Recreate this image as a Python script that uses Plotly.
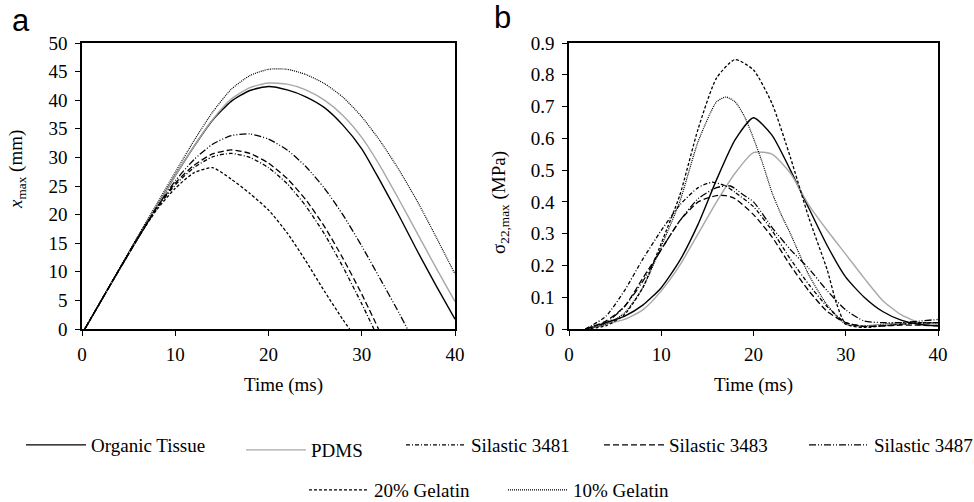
import plotly.graph_objects as go

# ---------------- data ----------------
series_names = ["Organic Tissue", "PDMS", "Silastic 3481", "Silastic 3483",
                "Silastic 3487", "20% Gelatin", "10% Gelatin"]

# Panel a: x_max (mm) vs time (ms)
t_a_organic = [0.3, 2, 4, 6, 8, 10, 12, 14, 16, 18, 20, 22, 24, 26, 28, 30, 32, 34, 36, 38, 40]
x_a_organic = [0, 4.8, 10.4, 15.9, 21.4, 26.8, 31.9, 36.5, 39.8, 41.7, 42.4, 41.8, 40.6, 38.7, 35.6, 31.5, 25.8, 19.8, 13.5, 7.5, 1.7]

t_a_pdms = [0.3, 2, 4, 6, 8, 10, 12, 14, 16, 18, 20, 22, 24, 26, 28, 30, 32, 34, 36, 38, 40]
x_a_pdms = [0, 4.8, 10.4, 15.9, 21.4, 26.8, 31.9, 36.6, 40.2, 42.2, 43.0, 42.8, 41.8, 40.0, 37.3, 33.5, 28.4, 22.6, 16.6, 10.6, 4.8]

t_a_s3481 = [0.3, 2, 4, 6, 8, 10, 12, 14, 16, 18, 20, 22, 24, 26, 28, 30, 31.3]
x_a_s3481 = [0, 4.8, 10.4, 15.9, 21.0, 25.2, 28.2, 30.1, 30.7, 30.0, 28.2, 25.4, 21.5, 16.6, 10.8, 4.4, 0]

t_a_s3483 = [0.3, 2, 4, 6, 8, 10, 12, 14, 16, 18, 20, 22, 24, 26, 28, 30, 31.8]
x_a_s3483 = [0, 4.8, 10.4, 15.9, 21.2, 25.5, 28.6, 30.6, 31.3, 30.7, 29.0, 26.3, 22.6, 17.9, 12.3, 6.1, 0]

t_a_s3487 = [0.3, 2, 4, 6, 8, 10, 12, 14, 16, 18, 20, 22, 24, 26, 28, 30, 32, 34, 34.9]
x_a_s3487 = [0, 4.8, 10.4, 15.9, 21.2, 25.9, 29.6, 32.3, 33.8, 34.1, 33.2, 31.3, 28.4, 24.6, 19.9, 14.5, 8.7, 2.8, 0]

t_a_gel20 = [0.3, 2, 4, 6, 8, 10, 12, 14, 16, 18, 20, 22, 24, 26, 28, 28.7]
x_a_gel20 = [0, 4.8, 10.4, 15.9, 20.8, 24.6, 27.3, 28.2, 26.2, 23.7, 20.8, 16.8, 11.9, 6.6, 1.6, 0]

t_a_gel10 = [0.3, 2, 4, 6, 8, 10, 12, 14, 16, 18, 20, 22, 24, 26, 28, 30, 32, 34, 36, 38, 40]
x_a_gel10 = [0, 4.8, 10.6, 16.3, 21.8, 27.4, 32.9, 37.9, 41.9, 44.3, 45.4, 45.4, 44.5, 42.9, 40.5, 37.1, 32.8, 27.8, 22.2, 16.0, 9.6]

# Panel b: sigma_22,max (MPa) vs time (ms)
t_b_organic = [1.8, 4, 6, 8, 10, 12, 14, 16, 18, 20, 22, 24, 26, 28, 30, 32, 34, 36, 38, 40]
s_b_organic = [0, 0.02, 0.04, 0.075, 0.13, 0.215, 0.33, 0.47, 0.595, 0.665, 0.61, 0.5, 0.38, 0.262, 0.163, 0.1, 0.055, 0.028, 0.014, 0.01]

t_b_pdms = [1.8, 4, 6, 8, 10, 12, 14, 16, 18, 20, 22, 24, 26, 28, 30, 32, 34, 36, 38, 40]
s_b_pdms = [0, 0.015, 0.03, 0.06, 0.12, 0.2, 0.3, 0.4, 0.49, 0.555, 0.55, 0.49, 0.39, 0.31, 0.235, 0.16, 0.09, 0.045, 0.02, 0.015]

t_b_s3481 = [1.8, 4, 6, 8, 10, 12, 14, 15.5, 17, 18, 20, 22, 24, 26, 28, 30, 32, 34, 36, 38, 40]
s_b_s3481 = [0, 0.04, 0.12, 0.22, 0.31, 0.39, 0.445, 0.462, 0.45, 0.43, 0.385, 0.31, 0.22, 0.14, 0.07, 0.02, 0.008, 0.01, 0.015, 0.018, 0.02]

t_b_s3483 = [1.8, 4, 6, 8, 10, 12, 14, 16, 17, 18, 20, 22, 24, 26, 28, 30, 32, 34, 36, 38, 40]
s_b_s3483 = [0, 0.025, 0.07, 0.16, 0.25, 0.34, 0.40, 0.42, 0.42, 0.41, 0.36, 0.29, 0.2, 0.12, 0.055, 0.02, 0.008, 0.01, 0.012, 0.012, 0.01]

t_b_s3487 = [1.8, 4, 6, 8, 10, 12, 14, 16, 17.5, 19, 20, 22, 24, 26, 28, 30, 32, 34, 36, 38, 40]
s_b_s3487 = [0, 0.02, 0.07, 0.15, 0.25, 0.34, 0.41, 0.445, 0.45, 0.42, 0.4, 0.32, 0.25, 0.19, 0.12, 0.06, 0.025, 0.02, 0.02, 0.025, 0.03]

t_b_gel20 = [1.8, 4, 6, 8, 10, 12, 14, 16, 18, 20, 22, 24, 26, 28, 29, 30, 32, 34, 36, 38, 40]
s_b_gel20 = [0, 0.01, 0.045, 0.13, 0.27, 0.42, 0.63, 0.79, 0.848, 0.815, 0.71, 0.54, 0.35, 0.185, 0.08, 0.015, 0.005, 0.01, 0.015, 0.02, 0.02]

t_b_gel10 = [1.8, 4, 6, 8, 10, 12, 14, 16, 17, 18, 19, 20, 21, 22, 23, 24, 26, 28, 30, 32, 34, 36, 38, 40]
s_b_gel10 = [0, 0.015, 0.05, 0.13, 0.26, 0.40, 0.59, 0.715, 0.73, 0.715, 0.67, 0.6, 0.52, 0.43, 0.36, 0.30, 0.17, 0.075, 0.015, 0.01, 0.015, 0.02, 0.02, 0.02]

x_ticks = [0, 10, 20, 30, 40]
ya_ticks = [0, 5, 10, 15, 20, 25, 30, 35, 40, 45, 50]
yb_ticks = [0, 0.1, 0.2, 0.3, 0.4, 0.5, 0.6, 0.7, 0.8, 0.9]
yb_ticklabels = ["0", "0.1", "0.2", "0.3", "0.4", "0.5", "0.6", "0.7", "0.8", "0.9"]

# ---------------- styling ----------------
styles = {
    "Organic Tissue": dict(color="black", dash="solid", width=1.4),
    "PDMS": dict(color="#a8a8a8", dash="solid", width=1.4),
    "Silastic 3481": dict(color="black", dash="4px,2px,1px,2px", width=1.3),
    "Silastic 3483": dict(color="black", dash="6px,3px", width=1.3),
    "Silastic 3487": dict(color="black", dash="7px,2px,1px,2px,1px,2px", width=1.3),
    "20% Gelatin": dict(color="black", dash="3px,2px", width=1.3),
    "10% Gelatin": dict(color="black", dash="1px,1px", width=1.2),
}

panel_a = {
    "Organic Tissue": (t_a_organic, x_a_organic),
    "PDMS": (t_a_pdms, x_a_pdms),
    "Silastic 3481": (t_a_s3481, x_a_s3481),
    "Silastic 3483": (t_a_s3483, x_a_s3483),
    "Silastic 3487": (t_a_s3487, x_a_s3487),
    "20% Gelatin": (t_a_gel20, x_a_gel20),
    "10% Gelatin": (t_a_gel10, x_a_gel10),
}
panel_b = {
    "Organic Tissue": (t_b_organic, s_b_organic),
    "PDMS": (t_b_pdms, s_b_pdms),
    "Silastic 3481": (t_b_s3481, s_b_s3481),
    "Silastic 3483": (t_b_s3483, s_b_s3483),
    "Silastic 3487": (t_b_s3487, s_b_s3487),
    "20% Gelatin": (t_b_gel20, s_b_gel20),
    "10% Gelatin": (t_b_gel10, s_b_gel10),
}

W, H = 974, 502
def px(x):
    return x / W
def py(y):
    return (H - y) / H

legend_ids = ["legend", "legend2", "legend3", "legend4", "legend5", "legend6", "legend7"]
legend_pos = {
    "Organic Tissue": (21, 445),
    "PDMS": (241, 450),
    "Silastic 3481": (401, 445),
    "Silastic 3483": (599, 445),
    "Silastic 3487": (804, 445),
    "20% Gelatin": (304, 490),
    "10% Gelatin": (503, 490),
}

SERIF = "Liberation Serif"
fig = go.Figure()

for i, name in enumerate(series_names):
    st = styles[name]
    ta, va = panel_a[name]
    fig.add_trace(go.Scatter(
        x=ta, y=va, mode="lines", name=name, legend=legend_ids[i],
        line=dict(color=st["color"], dash=st["dash"], width=st["width"], shape="spline", smoothing=0.6),
        xaxis="x", yaxis="y", showlegend=True,
    ))
    tb, vb = panel_b[name]
    fig.add_trace(go.Scatter(
        x=tb, y=vb, mode="lines", name=name,
        line=dict(color=st["color"], dash=st["dash"], width=st["width"], shape="spline", smoothing=0.6),
        xaxis="x2", yaxis="y2", showlegend=False,
    ))

def axis(**kw):
    d = dict(
        showline=True, linecolor="black", linewidth=1.5, mirror=True,
        ticks="outside", ticklen=5, tickwidth=1.2, tickcolor="black",
        showgrid=False, zeroline=False, automargin=False,
        tickfont=dict(family=SERIF, size=19, color="black"),
    )
    d.update(kw)
    return d

layout = dict(
    width=W, height=H,
    margin=dict(l=0, r=0, t=0, b=0, autoexpand=False),
    paper_bgcolor="white", plot_bgcolor="white",
    font=dict(family=SERIF, size=19, color="black"),
    xaxis=axis(domain=[px(82), px(455)], range=[0, 40], tickvals=x_ticks, anchor="y", ticklabelstandoff=2),
    yaxis=axis(domain=[py(329), py(43)], range=[0, 50], tickvals=ya_ticks, anchor="x", ticklabelstandoff=4),
    xaxis2=axis(domain=[px(569), px(938)], range=[0, 40], tickvals=x_ticks, anchor="y2", ticklabelstandoff=2),
    yaxis2=axis(domain=[py(329), py(43)], range=[0, 0.9], tickvals=yb_ticks, ticktext=yb_ticklabels,
                anchor="x2", ticklabelstandoff=4),
)

for i, name in enumerate(series_names):
    lx, ly = legend_pos[name]
    layout[legend_ids[i]] = dict(
        x=px(lx), y=py(ly), xanchor="left", yanchor="middle",
        orientation="h", bgcolor="rgba(0,0,0,0)", borderwidth=0,
        itemwidth=60,
        font=dict(family=SERIF, size=19, color="black"),
    )

fig.update_layout(**layout)

title_font = dict(family=SERIF, size=19, color="black")
annotations = [
    dict(text="Time (ms)", x=px(283), y=py(385), xref="paper", yref="paper",
         xanchor="center", yanchor="middle", showarrow=False, font=title_font),
    dict(text="Time (ms)", x=px(753), y=py(385), xref="paper", yref="paper",
         xanchor="center", yanchor="middle", showarrow=False, font=title_font),
    dict(text="<i>x</i><sub>max</sub> (mm)", x=px(17), y=py(170), xref="paper", yref="paper",
         xanchor="center", yanchor="middle", textangle=-90, showarrow=False, font=title_font),
    dict(text="σ<sub>22,max</sub> (MPa)", x=px(500), y=py(202), xref="paper", yref="paper",
         xanchor="center", yanchor="middle", textangle=-90, showarrow=False, font=title_font),
    dict(text="a", x=px(10), y=py(21), xref="paper", yref="paper",
         xanchor="left", yanchor="middle", showarrow=False,
         font=dict(family="Liberation Sans", size=31, color="black")),
    dict(text="b", x=px(492), y=py(18), xref="paper", yref="paper",
         xanchor="left", yanchor="middle", showarrow=False,
         font=dict(family="Liberation Sans", size=31, color="black")),
]
fig.update_layout(annotations=annotations)

fig.write_html("out.html", config={"displayModeBar": False},
               post_script="document.body.style.margin='0px';")
